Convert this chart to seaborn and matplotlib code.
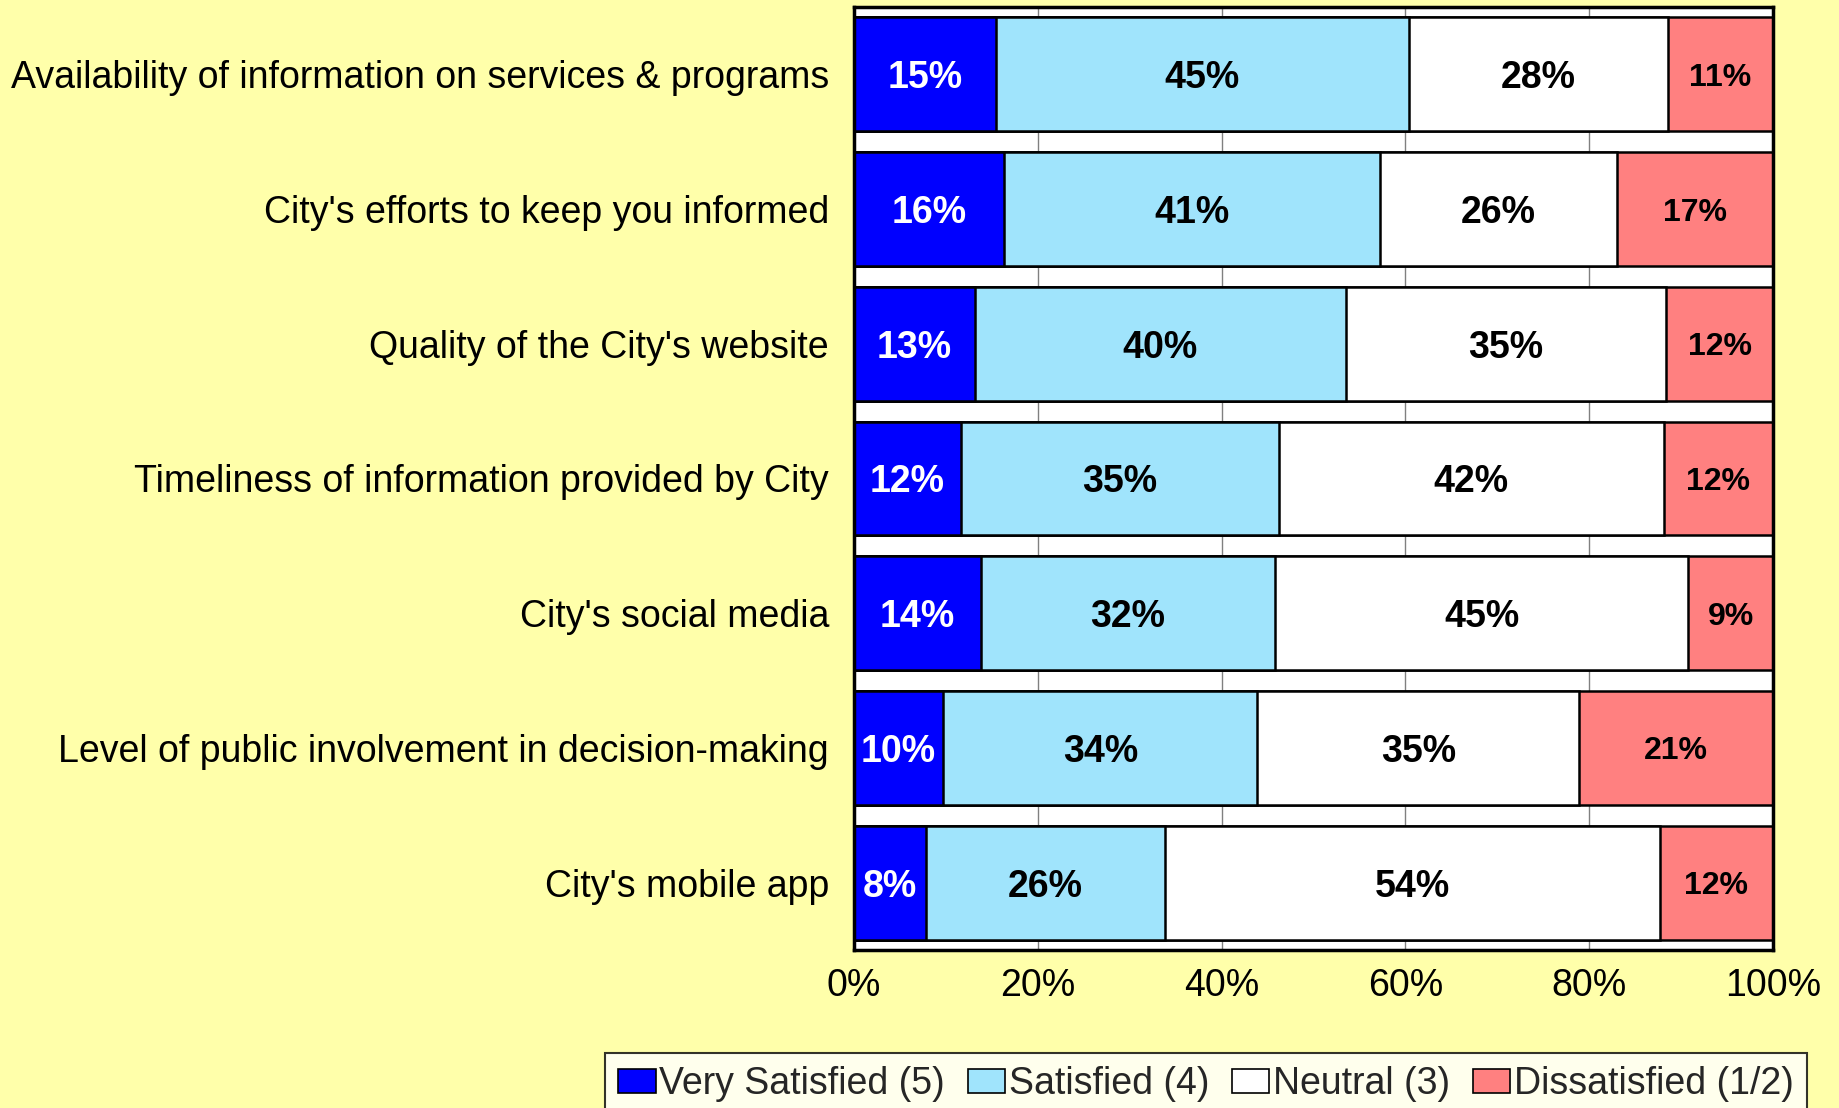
import matplotlib
matplotlib.use('Agg')
import matplotlib.pyplot as plt
import seaborn as sns
import pandas as pd
import numpy as np
from matplotlib.patches import Patch

# --- Data ---
categories = [
    "Availability of information on services & programs",
    "City's efforts to keep you informed",
    "Quality of the City's website",
    "Timeliness of information provided by City",
    "City's social media",
    "Level of public involvement in decision-making",
    "City's mobile app",
]
very_satisfied = [15.4, 16.3, 13.2, 11.6, 13.8, 9.7, 7.8]
satisfied = [45.0, 40.9, 40.3, 34.6, 32.0, 34.2, 26.0]
neutral = [28.2, 25.8, 34.9, 41.9, 45.0, 35.0, 53.9]
dissatisfied = [11.4, 17.0, 11.6, 11.9, 9.2, 21.1, 12.3]

series_names = ["Very Satisfied (5)", "Satisfied (4)", "Neutral (3)", "Dissatisfied (1/2)"]
colors = ["#0000FF", "#A0E4FC", "#FFFFFF", "#FF8080"]
label_colors = ["white", "black", "black", "black"]
label_sizes = [27, 27, 27, 23]
x_ticks = [0, 20, 40, 60, 80, 100]

BG = "#FFFFAA"

sns.set_theme(style="white")
plt.rcParams['font.family'] = ['Liberation Sans', 'DejaVu Sans']

df = pd.DataFrame({
    "category": categories,
    series_names[0]: very_satisfied,
    series_names[1]: satisfied,
    series_names[2]: neutral,
    series_names[3]: dissatisfied,
})
parts = df[series_names].to_numpy()
cum = np.cumsum(parts, axis=1)

fig = plt.figure(figsize=(18.39, 11.08), dpi=100, facecolor=BG)
ax = fig.add_axes([854 / 1839, 1 - 950 / 1108, (1773 - 854) / 1839, (950 - 7) / 1108])
ax.set_facecolor("white")

# stacked bars: draw cumulative totals from the widest down
for j in range(len(series_names) - 1, -1, -1):
    sns.barplot(x=cum[:, j], y=df["category"], orient="h", color=colors[j],
                saturation=1, width=0.845, edgecolor="black", linewidth=1.8,
                ax=ax, zorder=2)

# value labels in the middle of each segment
for i in range(len(categories)):
    for j in range(len(series_names)):
        start = cum[i, j] - parts[i, j]
        ax.text(start + parts[i, j] / 2, i, f"{parts[i, j]:.0f}%",
                ha="center", va="center_baseline", fontsize=label_sizes[j],
                fontweight="bold", color=label_colors[j], zorder=3)

ax.set_xlim(0, 100)
ax.set_ylim(len(categories) - 0.5, -0.5)
ax.set_xticks(x_ticks)
ax.set_xticklabels([f"{t}%" for t in x_ticks], fontsize=27)
ax.tick_params(axis="x", length=0, pad=13, colors="black")
ax.tick_params(axis="y", length=0, pad=18, labelsize=27, colors="black")
ax.set_xlabel("")
ax.set_ylabel("")
ax.xaxis.grid(True, color="#808080", linewidth=1)
ax.set_axisbelow(True)
for s in ax.spines.values():
    s.set_visible(True)
    s.set_color("black")
    s.set_linewidth(2.5)

handles = [Patch(facecolor=c, edgecolor="black", linewidth=1.2) for c in colors]
leg = fig.legend(handles, series_names, loc="upper left",
                 bbox_to_anchor=(605 / 1839, 1 - 1053 / 1108), ncol=4,
                 fontsize=27, frameon=True, fancybox=False, handlelength=1.0,
                 handleheight=0.6, handletextpad=0.1, columnspacing=0.6,
                 borderpad=0.35, borderaxespad=0)
leg.get_frame().set_edgecolor("black")
leg.get_frame().set_linewidth(1.5)
leg.get_frame().set_facecolor("white")

fig.savefig("out.png", dpi=100, facecolor=BG)
